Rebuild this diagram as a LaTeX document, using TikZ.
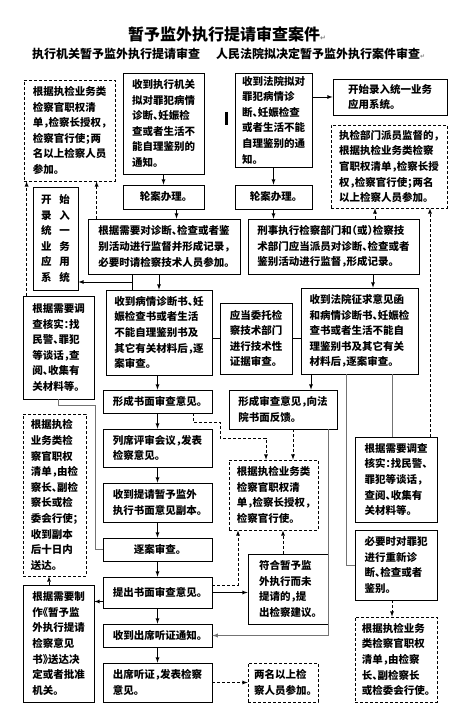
\documentclass[tikz,border=0pt]{standalone}
\usepackage{fontspec}
\setmainfont{Noto Sans CJK SC}[RawFeature=+halt]
\newfontfamily\symfont{DejaVu Sans}

\begin{document}
\begin{tikzpicture}[x=1pt,y=-1pt,>=latex,
  every node/.style={font=\bfseries\fontsize{10.5}{15.6}\selectfont},
  box/.style={draw,line width=0.8pt,align=left,inner xsep=5pt,inner ysep=2pt},
  dbox/.style={box,dash pattern=on 3pt off 2pt},
  sz/.style 2 args={minimum width=#1,minimum height=#2},
  arr/.style={->,line width=0.8pt},
  darr/.style={->,line width=0.8pt,dash pattern=on 3pt off 2pt},
  link/.style={line width=0.9pt,black!55}]
\useasboundingbox (0,0) rectangle (453,708);

% Title
\node[anchor=west,inner sep=0pt,font=\bfseries\fontsize{16}{16}\selectfont] (title) at (128,34) {暂予监外执行提请审查案件{\symfont\fontsize{7}{7}\selectfont\color{gray}↵}};
\node[anchor=west,inner sep=0pt,font=\bfseries\fontsize{12}{12}\selectfont] (subtitle) at (32,54) {执行机关暂予监外执行提请审查\hspace{16pt}人民法院拟决定暂予监外执行案件审查{\symfont\fontsize{6}{6}\selectfont\color{gray}↵}};
\draw[line width=3pt] (226.5,112) -- (226.5,125);

% Top row
\node[dbox,sz={91}{101}] (grantA) at (69.5,130.5) {根据执检业务类\\检察官职权清\\单，检察长授权，\\检察官行使；两\\名以上检察人员\\参加。};
\node[box,sz={81}{101}] (recvExec) at (163.5,123.5) {收到执行机关\\拟对罪犯病情\\诊断、妊娠检\\查或者生活不\\能自理鉴别的\\通知。};
\node[box,sz={77}{94}] (recvCourt) at (273.5,120) {收到法院拟对\\罪犯病情诊\\断、妊娠检查\\或者生活不能\\自理鉴别的通\\知。};
\node[box,sz={114}{36}] (sysEntry) at (390,97) {开始录入统一业务\\应用系统。};
\node[dbox,sz={116}{83}] (grantB) at (389,166.5) {执检部门派员监督的，\\根据执检业务类检察\\官职权清单，检察长授\\权，检察官行使；两名\\以上检察人员参加。};
\node[box,sz={81}{24}] (caseA) at (163.5,197) {轮案办理。};
\node[box,sz={77}{24}] (caseB) at (273.5,197) {轮案办理。};

% Supervision
\node[box,sz={45}{103}] (sysV) at (55.5,238.5) {开\hspace{8pt}始\\录\hspace{8pt}入\\统\hspace{8pt}一\\业\hspace{8pt}务\\应\hspace{8pt}用\\系\hspace{8pt}统};
\node[box,sz={152}{55}] (superviseA) at (164,246.5) {根据需要对诊断、检查或者鉴\\别活动进行监督并形成记录，\\必要时请检察技术人员参加。};
\node[box,sz={171}{55}] (superviseB) at (333.5,246.5) {刑事执行检察部门和（或）检察技\\术部门应当派员对诊断、检查或者\\鉴别活动进行监督，形成记录。};

% Review
\node[box,sz={71}{103}] (askA) at (58.5,347.5) {根据需要调\\查核实：找\\民警、罪犯\\等谈话，查\\阅、收集有\\关材料等。};
\node[box,sz={106}{85}] (reviewA) at (159,332.5) {收到病情诊断书、妊\\娠检查书或者生活\\不能自理鉴别书及\\其它有关材料后，逐\\案审查。};
\node[box,sz={72}{71}] (techBox) at (256,338.5) {应当委托检\\察技术部门\\进行技术性\\证据审查。};
\node[box,sz={117}{86}] (reviewB) at (359.5,331) {收到法院征求意见函\\和病情诊断书、妊娠检\\查书或者生活不能自\\理鉴别书及其它有关\\材料后，逐案审查。};

% Left column
\node[box,sz={109}{23}] (opinionA) at (157.5,401.5) {形成书面审查意见。};
\node[box,sz={109}{38}] (meetingA) at (157.5,448) {列席评审会议，发表\\检察意见。};
\node[box,sz={109}{39}] (copyA) at (157.5,502.5) {收到提请暂予监外\\执行书面意见副本。};
\node[box,sz={109}{23}] (reviewA2) at (157.5,549.5) {逐案审查。};
\node[box,sz={109}{31}] (submitA) at (157.5,592.5) {提出书面审查意见。};
\node[box,sz={109}{23}] (noticeA) at (157.5,635.5) {收到出席听证通知。};
\node[box,sz={109}{39}] (hearingA) at (157.5,682.5) {出席听证，发表检察\\意见。};
\node[dbox,sz={63}{162}] (grantC) at (54.5,495) {根据执检\\业务类检\\察官职权\\清单，由检\\察长、副检\\察长或检\\委会行使；\\收到副本\\后十日内\\送达。};
\node[box,sz={71}{117}] (draftA) at (58.5,643.5) {根据需要制\\作《暂予监\\外执行提请\\检察意见\\书》送达决\\定或者批准\\机关。};

% Middle and right column
\node[box,sz={108}{39}] (opinionB) at (283,409.5) {形成审查意见，向法\\院书面反馈。};
\node[dbox,sz={89}{70}] (grantD) at (273.5,495) {根据执检业务类\\检察官职权清\\单，检察长授权，\\检察官行使。};
\node[box,sz={80}{70}] (proposeB) at (288,589) {符合暂予监\\外执行而未\\提请的，提\\出检察建议。};
\node[dbox,sz={70}{39}] (twoB) at (283,682.5) {两名以上检\\察人员参加。};
\node[box,sz={82}{85}] (askB) at (396,479.5) {根据需要调查\\核实：找民警、\\罪犯等谈话，\\查阅、收集有\\关材料等。};
\node[box,sz={82}{70}] (redoB) at (396,565) {必要时对罪犯\\进行重新诊\\断、检查或者\\鉴别。};
\node[dbox,sz={82}{85}] (grantE) at (396,659.5) {根据执检业务\\类检察官职权\\清单，由检察\\长、副检察长\\或检委会行使。};

% Arrows, solid
\draw[arr] (recvExec) -- (caseA);
\draw[arr] (recvCourt) -- (caseB);
\draw[arr] (recvCourt.east |- sysEntry) -- (sysEntry);
\draw[arr] ([xshift=13pt]caseA.south) -- ([xshift=13pt]caseA.south |- superviseA.north);
\draw[arr] (caseB.south) -- (caseB.south |- superviseB.north);
\draw[arr] (superviseA.south -| reviewA) -- (reviewA);
\coordinate (entryJoin) at (132,282);
\draw[line width=0.8pt] (superviseA.south -| entryJoin) -- (reviewA.north -| entryJoin);
\draw[arr] (entryJoin) -- (entryJoin -| sysV.east);
\draw[arr] (superviseB.south -| 373,0) -- (reviewB.north -| 373,0);
\draw[line width=0.8pt] (reviewA.east |- techBox) -- (techBox);
\draw[line width=0.8pt] (techBox) -- (techBox -| reviewB.west);
\draw[arr] (reviewA.south -| opinionA) -- (opinionA);
\draw[arr] (opinionA) -- (meetingA);
\draw[arr] (meetingA) -- (copyA);
\draw[arr] (copyA) -- (reviewA2);
\draw[arr] (reviewA2) -- (submitA);
\draw[arr] (submitA) -- (noticeA);
\draw[arr] (noticeA) -- (hearingA);
\draw[arr] (submitA.east) -- (submitA.east -| proposeB.west);
\draw[arr] ([yshift=-9pt]submitA.west) -- ([yshift=-9pt]submitA.west -| draftA.east);
\draw[arr] (reviewB.south -| 311,0) -- (opinionB.north -| 311,0);
\draw[link] (askA.south) |- (95,405) |- (reviewA2.west);
\draw[link] (reviewB.south -| 392,0) -- (askB.north -| 392,0);
\draw[link] (reviewB.south -| 346,0) |- (redoB.west);
\draw[link,->] (opinionB.south -| 328,0) |- (noticeA.east);

% Arrows, dashed
\draw[darr] ([xshift=4pt]askA.north west) -- ([xshift=4pt]askA.north west |- grantA.south);
\draw[darr] ([xshift=9pt]superviseA.north west) -- ([xshift=9pt]superviseA.north west |- grantA.south);
\draw[darr] (superviseB.north -| 375,0) -- (grantB.south -| 375,0);
\draw[darr] (askB.north -| 430,0) -- (grantB.south -| 430,0);
\draw[darr] (opinionA.south -| 193,0) |- (220,422) |- (266,438) -- (grantD.north -| 266,0);
\draw[darr] (opinionB.south -| 293,0) -- (grantD.north -| 293,0);
\draw[darr] ([yshift=7pt]submitA.east) -| (grantD.south -| 238,0);
\draw[darr] (proposeB.north -| 283,0) -- (grantD.south -| 283,0);
\draw[darr] (draftA.north -| 49,0) -- (grantC.south -| 49,0);
\draw[darr] (redoB.south -| 392,0) -- (grantE.north -| 392,0);
\draw[darr] (hearingA) -- (twoB);

\end{tikzpicture}
\end{document}
